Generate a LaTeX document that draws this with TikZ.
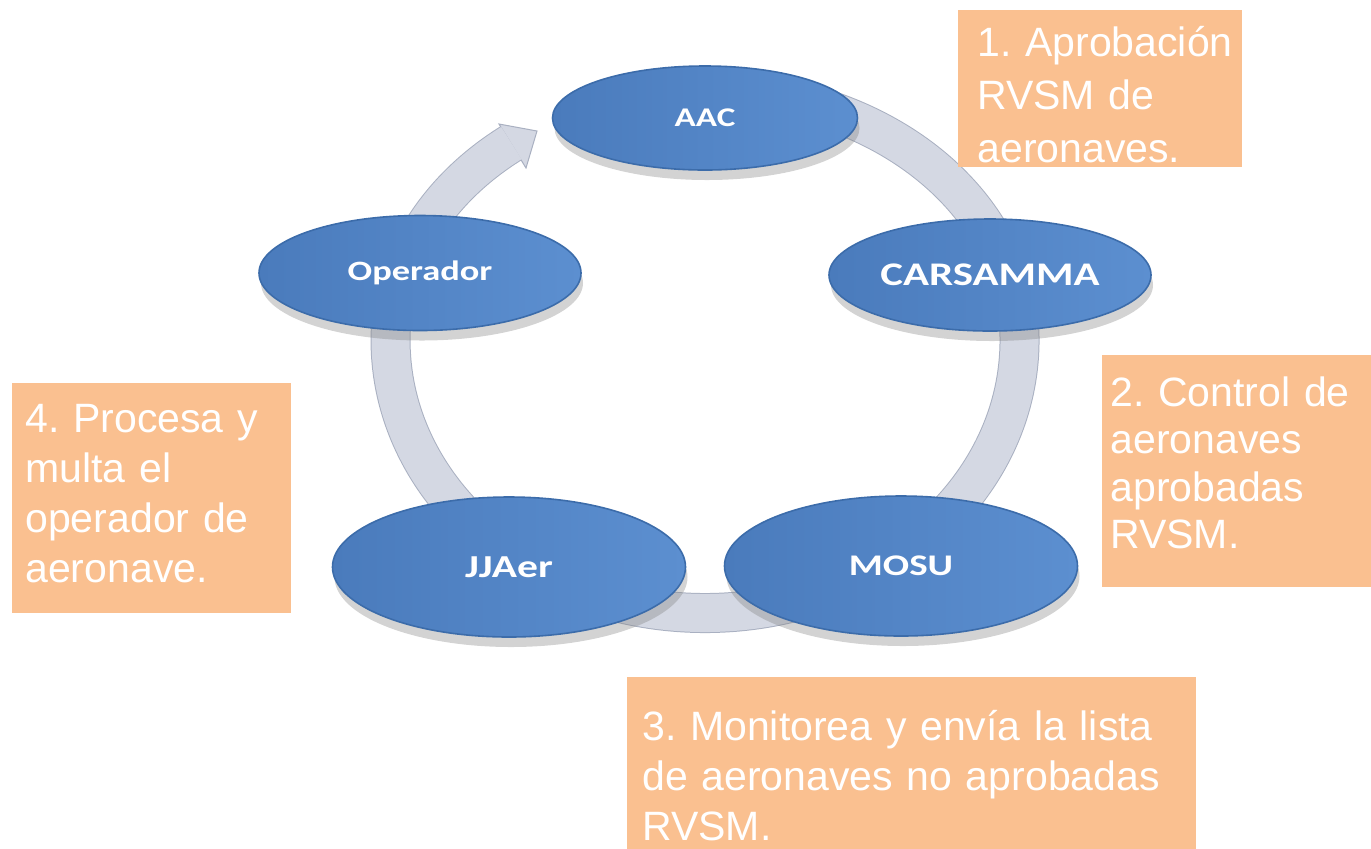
\documentclass[tikz,border=0pt]{standalone}
\usepackage{fontspec}
\setmainfont{Liberation Sans}
\newfontfamily\ovalfont[FakeStretch=1.3]{Carlito}
\usepackage{tikz,xcolor}
\usetikzlibrary{calc,positioning,shapes.geometric,shadows}
\definecolor{ovalblueL}{HTML}{4A7BBC}
\definecolor{ovalblueR}{HTML}{5C8FD0}
\definecolor{ovalrim}{HTML}{3C6CAA}
\definecolor{ringfill}{HTML}{D4D8E3}
\definecolor{ringedge}{HTML}{A9B0C1}
\definecolor{notefill}{HTML}{FAC090}
\frenchspacing
\tikzset{
    ovalnode/.style={ % requires library shapes.geometric
        ellipse,
        draw=ovalrim,
        line width=0.8pt,
        left color=ovalblueL,
        right color=ovalblueR,
        text=white,
        inner sep=0pt,
        font=\ovalfont\bfseries\fontsize{#1}{#1}\selectfont,
        drop shadow={opacity=0.35, shadow xshift=1pt, shadow yshift=-5pt}
    },
    notebox/.style={
        fill=notefill,
        anchor=north west,
        inner sep=0pt
    },
    notetext/.style={
        text=white,
        anchor=base west,
        align=left,
        inner sep=0pt,
        text width=290pt,
        font=\fontsize{20.5}{#1}\selectfont
    }
}

\begin{document}
\begin{tikzpicture}[x=0.5pt,y=-0.5pt]
        \useasboundingbox (0,0) rectangle (1371,848);
        \clip (0,0) rectangle (1371,848);

        % ring
        \coordinate (ringstart) at (812.6,105.1);
        \coordinate (tip) at (537,131);
        \coordinate (barbA) at (499,124);
        \coordinate (barbB) at (526,168);
        \def\ringpath{(ringstart)
            arc[start angle=290, end angle=360, x radius=314.5, y radius=250]
            arc[start angle=0, end angle=180, x radius=314.5, y radius=273]
            arc[start angle=180, end angle=232, x radius=314.5, y radius=250]}
        \draw[ringedge, line width=20pt] \ringpath;
        \filldraw[fill=ringfill, draw=ringedge, line width=0.5pt] (barbA) -- (tip) -- (barbB) -- cycle;
        \draw[ringfill, line width=19pt] \ringpath;

        % cycle nodes
        \node[ovalnode=13.5, minimum width=152.5pt, minimum height=52pt] (aac) at (705,118) {AAC};
        \node[ovalnode=16.5, minimum width=161pt, minimum height=56pt] (carsamma) at (990,275) {CARSAMMA};
        \node[ovalnode=15, minimum width=176.5pt, minimum height=70pt] (mosu) at (901,566) {MOSU};
        \node[ovalnode=16, minimum width=176.5pt, minimum height=70pt] (jjaer) at (509,567) {JJAer};
        \node[ovalnode=14, minimum width=161pt, minimum height=57.5pt] (operador) at (420,273) {Operador};

        % notes
        \node[notebox, minimum width=142pt, minimum height=78.5pt] (box1) at (958,10) {};
        \node[notetext=26.5pt] (n1) at (977,56) {1. Aprobación\\RVSM de\\aeronaves.};
        \node[notebox, minimum width=140pt, minimum height=116pt] (box2) at (1102,355) {};
        \node[notetext=23.75pt] (n2) at (1110,406) {2. Control de\\aeronaves\\aprobadas\\RVSM.};
        \node[notebox, minimum width=284.5pt, minimum height=100pt] (box3) at (627,677) {};
        \node[notetext=25pt] (n3) at (642,740) {3. Monitorea y envía la lista\\de aeronaves no aprobadas\\RVSM.};
        \node[notebox, minimum width=139.5pt, minimum height=115pt] (box4) at (12,383) {};
        \node[notetext=25pt] (n4) at (25,432) {4. Procesa y\\multa el\\operador de\\aeronave.};

    \end{tikzpicture}
\end{document}
